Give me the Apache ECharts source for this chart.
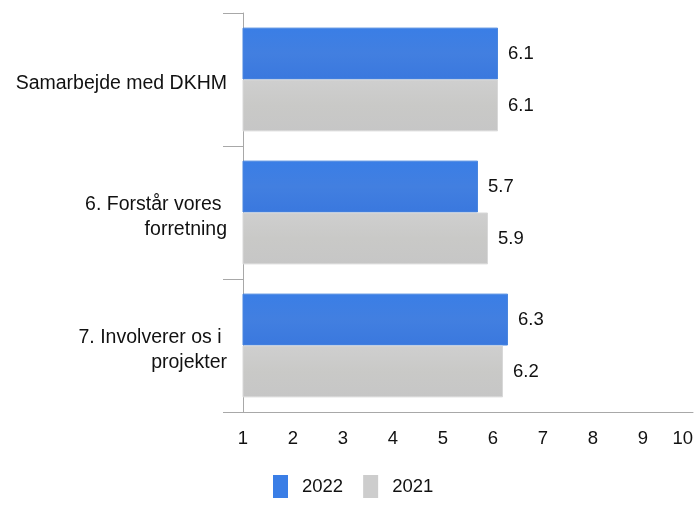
<!DOCTYPE html>
<html>
<head>
<meta charset="utf-8">
<script src="https://cdn.jsdelivr.net/npm/echarts@6/dist/echarts.min.js"></script>
<style>
  html, body { margin: 0; padding: 0; background: #fff; }
  #chart { width: 697px; height: 505px; }
</style>
</head>
<body>
<div id="chart"></div>
<script>
// Survey items and average scores per year
const categories = ['Samarbejde med DKHM', '6. Forstår vores \nforretning', '7. Involverer os i \nprojekter'];
const values2022 = [6.1, 5.7, 6.3];
const values2021 = [6.1, 5.9, 6.2];
const seriesNames = ['2022', '2021'];
const axisMin = 1;
const axisMax = 10;

const font = 'Liberation Sans, Arial, sans-serif';
const numSize = 18.5;
const blue = {
  type: 'linear', x: 0, y: 0, x2: 0, y2: 1,
  colorStops: [
    { offset: 0, color: '#3a7ee6' },
    { offset: 0.5, color: '#427fe0' },
    { offset: 1, color: '#3a78de' }
  ]
};
const gray = {
  type: 'linear', x: 0, y: 0, x2: 0, y2: 1,
  colorStops: [
    { offset: 0, color: '#cfcfcf' },
    { offset: 0.5, color: '#c9c9c7' },
    { offset: 1, color: '#c6c6c6' }
  ]
};

const valueLabel = {
  show: true, position: 'right', distance: 10,
  fontFamily: font, fontSize: numSize, color: '#111',
  formatter: p => p.value.toFixed(1)
};

const chart = echarts.init(document.getElementById('chart'));
chart.setOption({
  animation: false,
  grid: { left: 243, right: 4, top: 13, bottom: 93, containLabel: false },
  legend: {
    bottom: 2,
    left: 268,
    icon: 'rect',
    itemWidth: 15,
    itemHeight: 23,
    itemGap: 20,
    textStyle: { fontFamily: font, fontSize: numSize, color: '#111', padding: [0, 0, 0, 9] },
    data: [
      { name: seriesNames[0], itemStyle: { color: '#3a7ee6', borderWidth: 0 } },
      { name: seriesNames[1], itemStyle: { color: '#cdcdcd', borderWidth: 0 } }
    ]
  },
  xAxis: {
    type: 'value',
    min: axisMin,
    max: axisMax,
    interval: 1,
    splitLine: { show: false },
    axisLine: { show: true, lineStyle: { color: '#a8a8a8', width: 1 } },
    axisTick: { show: false },
    axisLabel: {
      fontFamily: font, fontSize: numSize, color: '#111', margin: 17,
      alignMaxLabel: 'right'
    }
  },
  yAxis: {
    type: 'category',
    inverse: true,
    data: categories,
    axisLine: { show: true, lineStyle: { color: '#a8a8a8', width: 1 } },
    axisTick: { show: true, length: 20, lineStyle: { color: '#a8a8a8' } },
    axisLabel: {
      margin: 16,
      align: 'right',
      // a thin spacer line on top nudges the text block slightly downward
      formatter: v => '{s| }\n' + v.split('\n').map(line => '{t|' + line + '}').join('\n'),
      rich: {
        s: { fontSize: 1, lineHeight: 9 },
        t: { fontFamily: font, fontSize: 19.5, color: '#111', lineHeight: 25 }
      }
    }
  },
  series: [
    {
      name: seriesNames[0],
      type: 'bar',
      data: values2022,
      barGap: '0%',
      barCategoryGap: '22%',
      itemStyle: { color: blue, borderColor: '#4a86df', borderWidth: 1 },
      label: valueLabel
    },
    {
      name: seriesNames[1],
      type: 'bar',
      data: values2021,
      barGap: '0%',
      barCategoryGap: '22%',
      itemStyle: { color: gray, borderColor: '#d8d8d8', borderWidth: 1 },
      label: valueLabel
    }
  ]
});
</script>
</body>
</html>
